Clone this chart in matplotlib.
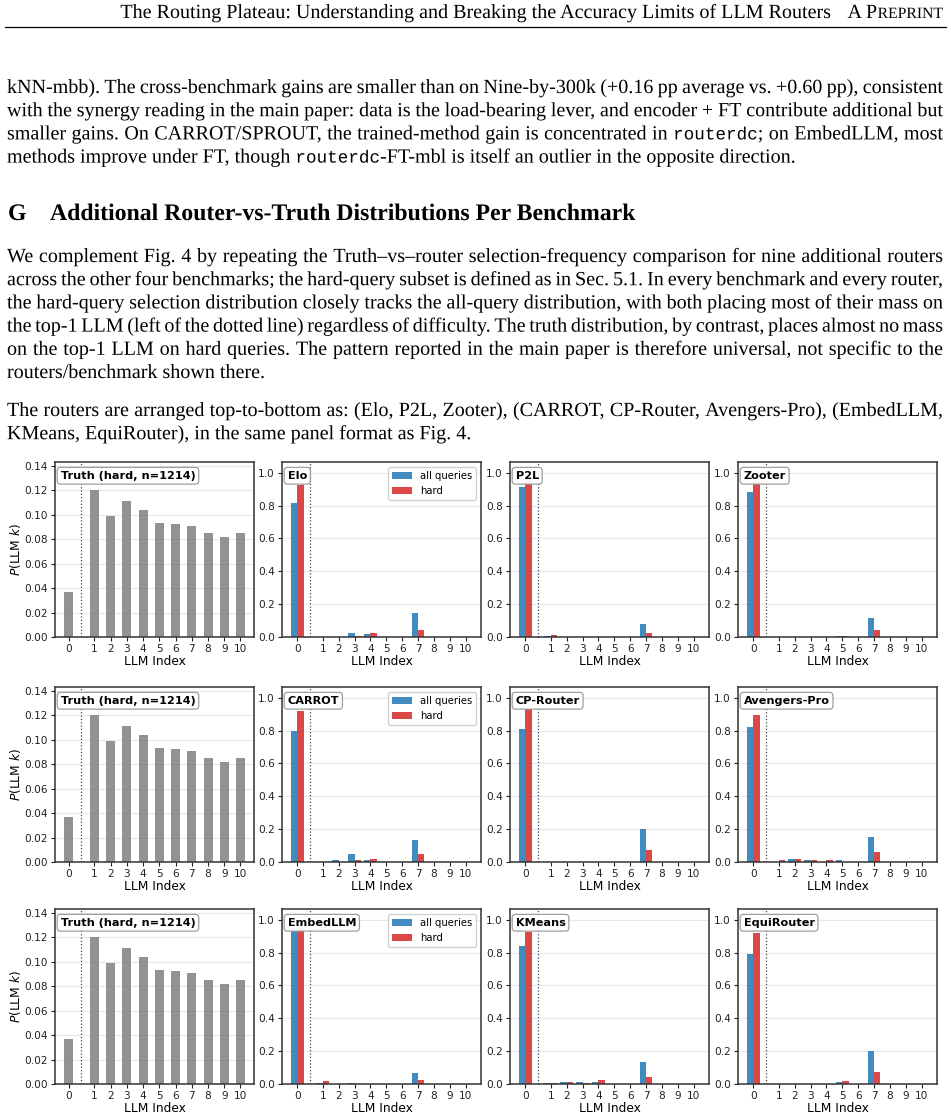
import matplotlib
matplotlib.use("Agg")
import matplotlib.pyplot as plt
import numpy as np
from matplotlib.textpath import TextPath, text_to_path
from matplotlib.patches import PathPatch
from matplotlib.font_manager import FontProperties
import matplotlib.transforms as mtrans

# ---------------- data ----------------
llm_index = list(range(11))
truth_hard = [0.037, 0.120, 0.099, 0.111, 0.104, 0.093, 0.092, 0.091, 0.085, 0.082, 0.085]
truth_n = 1214

router_names = ["Elo", "P2L", "Zooter",
                "CARROT", "CP-Router", "Avengers-Pro",
                "EmbedLLM", "KMeans", "EquiRouter"]

elo_all = [0.815, 0.002, 0.001, 0.022, 0.018, 0.002, 0.001, 0.144, 0.002, 0.001, 0.002]
elo_hard = [0.925, 0.002, 0.002, 0.005, 0.024, 0.002, 0.002, 0.043, 0.002, 0.002, 0.002]
p2l_all = [0.915, 0.005, 0.001, 0.001, 0.001, 0.001, 0.001, 0.077, 0.001, 0.001, 0.001]
p2l_hard = [0.960, 0.011, 0.001, 0.001, 0.001, 0.001, 0.001, 0.022, 0.001, 0.001, 0.001]
zooter_all = [0.880, 0.001, 0.001, 0.001, 0.001, 0.004, 0.001, 0.114, 0.001, 0.001, 0.001]
zooter_hard = [0.950, 0.001, 0.001, 0.001, 0.001, 0.004, 0.001, 0.043, 0.001, 0.001, 0.001]
carrot_all = [0.800, 0.002, 0.010, 0.047, 0.010, 0.002, 0.002, 0.135, 0.002, 0.002, 0.002]
carrot_hard = [0.920, 0.002, 0.003, 0.010, 0.018, 0.002, 0.002, 0.047, 0.002, 0.002, 0.002]
cprouter_all = [0.810, 0.002, 0.002, 0.002, 0.002, 0.002, 0.002, 0.200, 0.002, 0.002, 0.002]
cprouter_hard = [0.930, 0.002, 0.002, 0.002, 0.002, 0.002, 0.002, 0.075, 0.002, 0.002, 0.002]
avengers_all = [0.820, 0.002, 0.018, 0.010, 0.002, 0.010, 0.002, 0.152, 0.002, 0.002, 0.002]
avengers_hard = [0.895, 0.012, 0.018, 0.010, 0.010, 0.002, 0.002, 0.060, 0.002, 0.002, 0.002]
embedllm_all = [0.930, 0.006, 0.003, 0.004, 0.002, 0.002, 0.002, 0.067, 0.002, 0.002, 0.002]
embedllm_hard = [0.955, 0.020, 0.002, 0.003, 0.002, 0.002, 0.002, 0.024, 0.002, 0.002, 0.002]
kmeans_all = [0.840, 0.004, 0.012, 0.012, 0.012, 0.002, 0.002, 0.133, 0.002, 0.002, 0.002]
kmeans_hard = [0.925, 0.004, 0.012, 0.004, 0.024, 0.002, 0.002, 0.042, 0.002, 0.002, 0.002]
equi_all = [0.790, 0.002, 0.002, 0.002, 0.002, 0.012, 0.002, 0.200, 0.002, 0.002, 0.002]
equi_hard = [0.920, 0.002, 0.002, 0.002, 0.002, 0.018, 0.002, 0.073, 0.002, 0.002, 0.002]

router_all = [elo_all, p2l_all, zooter_all, carrot_all, cprouter_all, avengers_all,
              embedllm_all, kmeans_all, equi_all]
router_hard = [elo_hard, p2l_hard, zooter_hard, carrot_hard, cprouter_hard, avengers_hard,
               embedllm_hard, kmeans_hard, equi_hard]

header_title = "The Routing Plateau: Understanding and Breaking the Accuracy Limits of LLM Routers"
para1 = [
    "kNN-mbb). The cross-benchmark gains are smaller than on Nine-by-300k (+0.16 pp average vs. +0.60 pp), consistent",
    "with the synergy reading in the main paper: data is the load-bearing lever, and encoder + FT contribute additional but",
    "smaller gains. On CARROT/SPROUT, the trained-method gain is concentrated in `routerdc`; on EmbedLLM, most",
    "methods improve under FT, though `routerdc`-FT-mbl is itself an outlier in the opposite direction.",
]
heading_num = "G"
heading_text = "Additional Router-vs-Truth Distributions Per Benchmark"
para2 = [
    "We complement Fig. 4 by repeating the Truth\u2013vs\u2013router selection-frequency comparison for nine additional routers",
    "across the other four benchmarks; the hard-query subset is defined as in Sec. 5.1. In every benchmark and every router,",
    "the hard-query selection distribution closely tracks the all-query distribution, with both placing most of their mass on",
    "the top-1 LLM (left of the dotted line) regardless of difficulty. The truth distribution, by contrast, places almost no mass",
    "on the top-1 LLM on hard queries. The pattern reported in the main paper is therefore universal, not specific to the",
    "routers/benchmark shown there.",
]
para3 = [
    "The routers are arranged top-to-bottom as: (Elo, P2L, Zooter), (CARROT, CP-Router, Avengers-Pro), (EmbedLLM,",
    "KMeans, EquiRouter), in the same panel format as Fig. 4.",
]

# ---------------- page setup ----------------
W, H = 951, 1119
DPI = 100
fig = plt.figure(figsize=(W / DPI, H / DPI), dpi=DPI)
fig.patch.set_facecolor("white")

SERIF = "Liberation Serif"
MONO = "Liberation Mono"
BODY = 14.45
MONO_SIZE = 12.7
HEAD = 17.1
LEFT, RIGHT = 7, 943


def fx(x):
    return x / W


def fy(y):
    return 1 - y / H


def _prop(family, size_pt, weight):
    return FontProperties(family=family, size=size_pt * DPI / 72.0, weight=weight)


def str_width(s, family, size_pt, weight="normal"):
    w, h, d = text_to_path.get_text_width_height_descent(s, _prop(family, size_pt, weight), ismath=False)
    return w


def draw_str(s, x, yb, family, size_pt, weight="normal", ha="left"):
    """Draw a string as a path in pixel coordinates (y measured from the top)."""
    w = str_width(s, family, size_pt, weight)
    if ha == "right":
        x = x - w
    tp = TextPath((x, H - yb), s, prop=_prop(family, size_pt, weight))
    fig.add_artist(PathPatch(tp, facecolor="black", edgecolor="none", lw=0,
                             transform=mtrans.IdentityTransform()))
    return w


def word_segments(word):
    parts = word.split("`")
    segs = []
    for i, p in enumerate(parts):
        if p:
            mono = (i % 2 == 1)
            segs.append((p, MONO if mono else SERIF, MONO_SIZE if mono else BODY))
    return segs


def seg_width(segs):
    return sum(str_width(p, fam, sz) for p, fam, sz in segs)


def draw_line(line, yb, justify=True):
    words = [word_segments(w) for w in line.split(" ")]
    widths = [seg_width(s) for s in words]
    total = sum(widths)
    n = len(words) - 1
    space = BODY * DPI / 72 * 0.25
    gap = (RIGHT - LEFT - total) / n if (justify and n > 0) else space
    x = LEFT
    for segs, w in zip(words, widths):
        cx = x
        for p, fam, sz in segs:
            cx += draw_str(p, cx, yb, fam, sz)
        x += w + gap


def draw_para(lines, y0, step):
    for i, ln in enumerate(lines):
        draw_line(ln, y0 + i * step, justify=(i < len(lines) - 1))


# header
wrep = draw_str("REPRINT", 943, 18, SERIF, 11.3, ha="right")
draw_str("A P", 943 - wrep - 0.5, 18, SERIF, BODY, ha="right")
draw_str(header_title, 831, 18, SERIF, BODY, ha="right")
fig.add_artist(plt.Line2D([fx(5), fx(946)], [fy(27), fy(27)], color="black", lw=0.9))

draw_para(para1, 93, 23.2)
draw_str(heading_num, 8, 220, SERIF, HEAD, weight="bold")
draw_str(heading_text, 50, 220, SERIF, HEAD, weight="bold")
draw_para(para2, 262, 23.2)
draw_para(para3, 416, 23.2)

# ---------------- panels ----------------
BLUE = "#1f77b4"
RED = "#d62728"
GRAY = "#7f7f7f"
SPINE = "#333333"

col_left = [55, 282, 510, 738]
ax_w = 199
row_top = [462, 687, 909]
ax_h = 175

truth_pos = [0.0] + [k + 0.6 for k in llm_index[1:]]
tick_labels = [str(k) for k in llm_index]


def style_axes(ax):
    for s in ax.spines.values():
        s.set_color(SPINE)
        s.set_linewidth(1.1)
    ax.yaxis.grid(True, color="#e8e8e8", lw=0.8)
    ax.xaxis.grid(False)
    ax.set_axisbelow(True)
    ax.tick_params(axis="both", labelsize=7.6, length=3, width=0.8, pad=2, colors="#222222")
    ax.set_xticks(truth_pos)
    ax.set_xticklabels(tick_labels)
    ax.set_xlabel("LLM Index", fontsize=8.8, labelpad=1)
    ax.axvline(0.8, color="#444444", ls=":", lw=0.9)


def title_box(ax, text):
    ax.text(0.028, 0.95, text, transform=ax.transAxes, ha="left", va="top",
            fontsize=8.1, fontweight="bold", zorder=10,
            bbox=dict(boxstyle="round,pad=0.3", facecolor="white", edgecolor="#999999",
                      linewidth=0.9, alpha=0.95))


for r in range(3):
    top = row_top[r]
    # truth panel
    ax = fig.add_axes([fx(col_left[0]), fy(top + ax_h), ax_w / W, ax_h / H])
    ax.bar(truth_pos, truth_hard, width=0.55, color=GRAY, alpha=0.85)
    style_axes(ax)
    ax.set_ylim(0, 0.143)
    yt1 = np.arange(0, 0.141, 0.02)
    ax.set_yticks(yt1)
    ax.set_yticklabels([f"{v:.2f}" for v in yt1])
    ax.set_ylabel("$P$(LLM $k$)", fontsize=8.8, labelpad=1)
    title_box(ax, f"Truth (hard, n={truth_n})")

    for c in range(3):
        i = r * 3 + c
        ax = fig.add_axes([fx(col_left[c + 1]), fy(top + ax_h), ax_w / W, ax_h / H])
        pos = np.array(truth_pos)
        ax.bar(pos - 0.2, router_all[i], width=0.4, color=BLUE, alpha=0.85, label="all queries")
        ax.bar(pos + 0.2, router_hard[i], width=0.4, color=RED, alpha=0.85, label="hard")
        style_axes(ax)
        ax.set_ylim(0, 1.065)
        yt = np.arange(0, 1.01, 0.2)
        ax.set_yticks(yt)
        ax.set_yticklabels([f"{v:.1f}" for v in yt])
        title_box(ax, router_names[i])
        if c == 0:
            ax.legend(loc="upper right", fontsize=7.2, framealpha=0.9, edgecolor="#cccccc")

fig.savefig("out.png", dpi=DPI)
